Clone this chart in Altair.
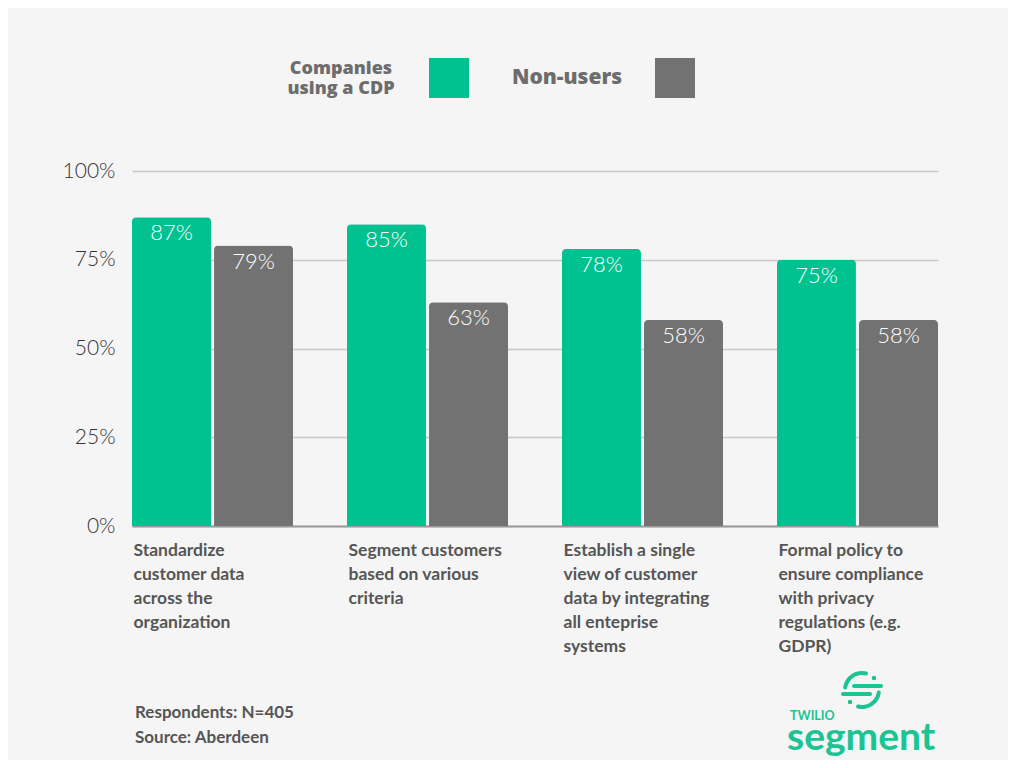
import altair as alt
import pandas as pd

# ---- data ----
categories = [
    "Standardize|customer data|across the|organization",
    "Segment customers|based on various|criteria",
    "Establish a single|view of customer|data by integrating|all enteprise|systems",
    "Formal policy to|ensure compliance|with privacy|regulations (e.g.|GDPR)",
]
series = ["Companies using a CDP", "Non-users"]
cdp_values = [87, 85, 78, 75]
nonuser_values = [79, 63, 58, 58]
y_ticks = [0, 25, 50, 75, 100]
footer_lines = ["Respondents: N=405", "Source: Aberdeen"]
logo_small = ["TWILIO"]
logo_big = ["segment"]
colors = ["#00c291", "#727272"]
logo_green = "#1cc493"

rows = []
for c, a, b in zip(categories, cdp_values, nonuser_values):
    rows.append({"category": c, "series": series[0], "value": a})
    rows.append({"category": c, "series": series[1], "value": b})
df = pd.DataFrame(rows)
df["label"] = df["value"].astype(str) + "%"

x_enc = alt.X(
    "category:N",
    sort=categories,
    scale=alt.Scale(paddingInner=0.251, paddingOuter=0),
    axis=alt.Axis(
        title=None,
        labelExpr="split(datum.label, '|')",
        labelAlign="left",
        labelOffset=-79,
        labelBaseline="top",
        labelPadding=15,
        labelLineHeight=24,
        labelFont="Lato",
        labelFontSize=17.5,
        labelFontWeight="bold",
        labelColor="#555555",
        labelLimit=300,
        labelAngle=0,
        labelOverlap=False,
        ticks=False,
        domainColor="#9a9a9a",
        domainWidth=2,
        grid=False,
    ),
)
xoff_enc = alt.XOffset(
    "series:N", sort=series, scale=alt.Scale(paddingInner=0.037, paddingOuter=0)
)
y_enc = alt.Y(
    "value:Q",
    scale=alt.Scale(domain=[0, 100]),
    axis=alt.Axis(
        title=None,
        values=y_ticks,
        labelExpr="datum.value + '%'",
        grid=True,
        gridColor="#c8c8c8",
        gridWidth=1.5,
        domain=False,
        ticks=False,
        labelPadding=17,
        labelFont="Lato",
        labelFontSize=21,
        labelFontWeight=300,
        labelColor="#333333",
    ),
)

bars = alt.Chart(df).mark_bar(cornerRadiusTopLeft=4, cornerRadiusTopRight=4).encode(
    x=x_enc,
    xOffset=xoff_enc,
    y=y_enc,
    color=alt.Color(
        "series:N",
        scale=alt.Scale(domain=series, range=colors),
        legend=alt.Legend(
            orient="none",
            legendX=297,
            legendY=-113,
            direction="horizontal",
            title=None,
            symbolType="square",
            symbolSize=1600,
            symbolStrokeWidth=0,
            symbolOpacity=1,
            labelAlign="center",
            labelOffset={"expr": "-128"},
            labelBaseline={"expr": "datum.label == 'Non-users' ? 'middle' : 'bottom'"},
            labelFont="Open Sans",
            labelFontSize={"expr": "datum.label == 'Non-users' ? 21 : 18"},
            labelFontWeight=800,
            labelColor="#6d6d6d",
            labelLimit=300,
            labelExpr="datum.label == 'Companies using a CDP' ? ['Companies', 'using a CDP'] : datum.label",
            columnPadding=42,
            padding=0,
        ),
    ),
)

texts = alt.Chart(df).mark_text(
    color="white", font="Lato", fontSize=22, fontWeight=300, baseline="top", dy=6
).encode(x=x_enc, xOffset=xoff_enc, y=y_enc, text="label:N")

# ---- logo ----
one = pd.DataFrame({"t": [0]})
twilio = alt.Chart(pd.DataFrame({"t": logo_small})).mark_text(
    color=logo_green, font="Lato", fontSize=12.5, fontWeight="bold", align="left",
    baseline="alphabetic"
).encode(text="t:N", x=alt.value(658), y=alt.value(549))

segment = alt.Chart(pd.DataFrame({"t": logo_big})).mark_text(
    color=logo_green, font="Lato", fontSize=39, fontWeight="bold", align="left",
    baseline="alphabetic"
).encode(text="t:N", x=alt.value(655), y=alt.value(579))

arc_up = alt.Chart(one).mark_arc(color=logo_green, cornerRadius=2).encode(
    x=alt.value(730), y=alt.value(519),
    theta=alt.value(4.747), theta2=alt.value(6.632),
    radius=alt.value(19), radius2=alt.value(15),
)
arc_down = alt.Chart(one).mark_arc(color=logo_green, cornerRadius=2).encode(
    x=alt.value(730), y=alt.value(519),
    theta=alt.value(1.606), theta2=alt.value(3.49),
    radius=alt.value(19), radius2=alt.value(15),
)
line_up = alt.Chart(one).mark_rule(
    color=logo_green, strokeWidth=4, strokeCap="round"
).encode(x=alt.value(722), x2=alt.value(749), y=alt.value(515))
line_down = alt.Chart(one).mark_rule(
    color=logo_green, strokeWidth=4, strokeCap="round"
).encode(x=alt.value(711), x2=alt.value(738), y=alt.value(523))
dot_up = alt.Chart(one).mark_circle(color=logo_green, size=20, opacity=1).encode(
    x=alt.value(742), y=alt.value(507)
)
dot_down = alt.Chart(one).mark_circle(color=logo_green, size=20, opacity=1).encode(
    x=alt.value(718), y=alt.value(531)
)

chart = alt.layer(
    bars, texts, twilio, segment, arc_up, arc_down, line_up, line_down, dot_up, dot_down
).properties(
    width=806,
    height=355,
    title=alt.TitleParams(
        text=footer_lines,
        orient="bottom",
        anchor="start",
        frame="group",
        offset=-53,
        dx=3,
        fontSize=17,
        font="Lato",
        fontWeight="bold",
        color="#555555",
        lineHeight=25,
    ),
    autosize=alt.AutoSizeParams(type="none"),
    padding={"left": 124, "top": 163, "right": 70, "bottom": 234},
    background="#f5f5f5",
).configure_view(stroke=None)

chart.save("out.html", embed_options={"renderer": "svg", "actions": False})
